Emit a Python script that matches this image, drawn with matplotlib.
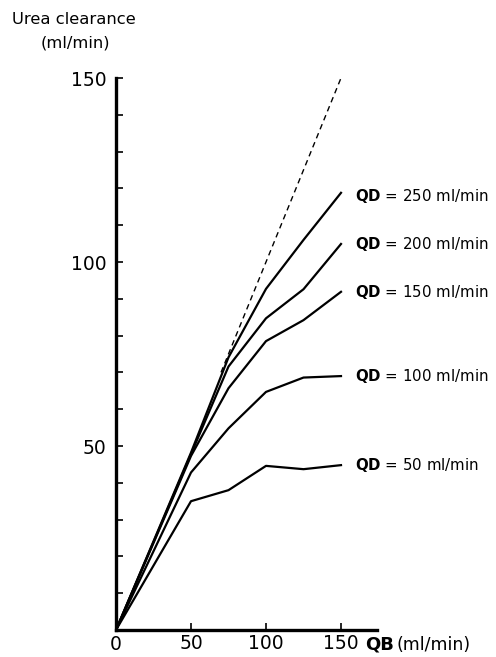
import matplotlib
matplotlib.use('Agg')
from matplotlib import pyplot as plt
import numpy as np

# blood flow QB (ml/min)
qb = [0, 50, 75, 100, 125, 150]
# urea clearance for each dialysate flow QD
qd50 = [0, 35.0, 38.0, 44.6, 43.7, 44.8]
qd100 = [0, 42.8, 54.8, 64.7, 68.6, 69.0]
qd150 = [0, 47.3, 65.7, 78.5, 84.2, 91.9]
qd200 = [0, 47.8, 71.6, 84.7, 92.6, 104.9]
qd250 = [0, 48.2, 74.1, 92.7, 106.0, 118.8]
curves = [qd50, qd100, qd150, qd200, qd250]
labels = ['50', '100', '150', '200', '250']
# theoretical limit (clearance = QB)
limit_x = [70, 150]
limit_y = [70, 150]

plt.rcParams['font.family'] = ['DejaVu Sans']

fig = plt.figure(figsize=(4.96, 6.57), dpi=100)
ax = fig.add_axes([116/496, 27/657, 261/496, 552/657])

for c in curves:
    ax.plot(qb, c, color='black', lw=1.6, solid_joinstyle='round')
ax.plot(limit_x, limit_y, color='black', lw=1.0, dashes=(4, 3))

for c, lab in zip(curves, labels):
    dy = -2 if lab == '250' else 0
    ax.annotate('$\\mathbf{QD}$ = ' + lab + ' ml/min', xy=(150, c[-1]),
                xytext=(10, dy), textcoords='offset points',
                ha='left', va='center', fontsize=10.8, annotation_clip=False)

ax.set_xlim(0, 174)
ax.set_ylim(0, 150)
for s in ['top', 'right']:
    ax.spines[s].set_visible(False)
for s in ['left', 'bottom']:
    ax.spines[s].set_linewidth(2.4)

ax.set_yticks(np.arange(10, 151, 10))
ax.set_yticklabels(['', '', '', '', '50', '', '', '', '', '100', '', '', '', '', '150'])
ax.set_xticks([50, 100, 150])
ax.set_xticklabels(['50', '100', '150'])
ax.tick_params(axis='both', direction='in', length=5, width=1.2, labelsize=13.5)
ax.tick_params(axis='y', pad=7)
ax.tick_params(axis='x', pad=3)

tr = ax.get_xaxis_transform()
yb = -15 / 552
ax.text(0, yb, '0', transform=tr, ha='center', va='center', fontsize=13.5, clip_on=False)
ax.text(166, yb, 'QB', transform=tr, ha='left', va='center', fontsize=13,
        fontweight='bold', clip_on=False)
ax.text(187, yb, '(ml/min)', transform=tr, ha='left', va='center', fontsize=12.5, clip_on=False)

fig.text(12/496, 1 - 20/657, 'Urea clearance', ha='left', va='center', fontsize=11.8)
fig.text(75/496, 1 - 43/657, '(ml/min)', ha='center', va='center', fontsize=11.8)

fig.savefig('out.png', dpi=100)
